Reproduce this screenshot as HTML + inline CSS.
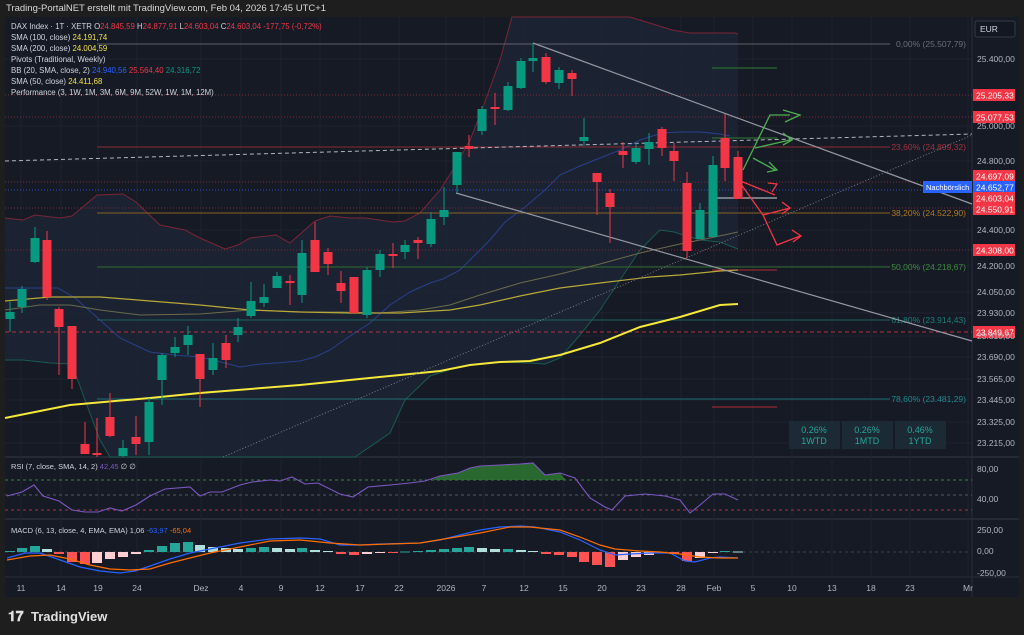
<!DOCTYPE html>
<html><head><meta charset="utf-8"><style>
html,body{margin:0;padding:0;background:#1e1e1e;width:1024px;height:635px;overflow:hidden}
svg{display:block;font-family:"Liberation Sans",sans-serif}
</style></head><body>
<svg id="s" width="1024" height="635" viewBox="0 0 1024 635" xmlns="http://www.w3.org/2000/svg">
<rect x="0" y="0" width="1024" height="635" fill="#1e1e1e"/>
<text x="6" y="11" fill="#d8d8d8" font-size="9.5">Trading-PortalNET erstellt mit TradingView.com, Feb 04, 2026 17:45 UTC+1</text>
<rect x="5" y="17" width="1014" height="580" fill="#161a25"/>
<line x1="972" y1="17" x2="972" y2="597" stroke="#2a2e39"/>
<line x1="5" y1="457" x2="1019" y2="457" stroke="#2a2e39" stroke-width="1.5"/>
<line x1="5" y1="519" x2="1019" y2="519" stroke="#2a2e39" stroke-width="1.5"/>
<line x1="5" y1="577" x2="1019" y2="577" stroke="#2a2e39"/>
<g id="grid" stroke="#1f2330" stroke-width="1"></g>
<g id="bb"></g>
<g id="lines"></g>
<g id="candles"></g>
<g id="ann"></g>
<g id="axis" font-size="8.5" fill="#b2b5be"></g>
<g font-size="7.8">
<text x="11" y="29" fill="#d1d4dc">DAX Index · 1T · XETR <tspan>O</tspan><tspan fill="#f23645">24.845,59</tspan> H<tspan fill="#f23645">24.877,91</tspan> L<tspan fill="#f23645">24.603,04</tspan> C<tspan fill="#f23645">24.603,04  -177,75 (-0,72%)</tspan></text>
<text x="11" y="40" fill="#d1d4dc">SMA (100, close) <tspan fill="#f0e040">24.191,74</tspan></text>
<text x="11" y="51" fill="#d1d4dc">SMA (200, close) <tspan fill="#f0e040">24.004,59</tspan></text>
<text x="11" y="62" fill="#d1d4dc">Pivots (Traditional, Weekly)</text>
<text x="11" y="73" fill="#d1d4dc">BB (20, SMA, close, 2) <tspan fill="#2962ff">24.940,56</tspan> <tspan fill="#f23645">25.564,40</tspan> <tspan fill="#089981">24.316,72</tspan></text>
<text x="11" y="84" fill="#d1d4dc">SMA (50, close) <tspan fill="#f0e040">24.411,68</tspan></text>
<text x="11" y="95" fill="#d1d4dc">Performance (3, 1W, 1M, 3M, 6M, 9M, 52W, 1W, 1M, 12M)</text>
<text x="11" y="469" fill="#d1d4dc" font-size="7.5">RSI (7, close, SMA, 14, 2) <tspan fill="#7e57c2">42,45</tspan> ∅ ∅</text>
<text x="11" y="533" fill="#d1d4dc" font-size="7.5">MACD (6, 13, close, 4, EMA, EMA) 1,06 <tspan fill="#2962ff">-63,97</tspan> <tspan fill="#ff6d00">-65,04</tspan></text>
</g>
<rect x="975" y="21" width="40" height="16" rx="2" fill="#131722" stroke="#363a45"/>
<text x="980" y="32" fill="#d1d4dc" font-size="8.5">EUR</text>
<g font-size="9.5" fill="#d1d4dc" font-weight="bold">
<text x="8" y="621" font-size="14" font-weight="bold" fill="#e0e0e0">𝟏𝟕</text>
<text x="31" y="621" font-size="13" fill="#e0e0e0">TradingView</text>
</g>
</svg>
<script>
const NS="http://www.w3.org/2000/svg";
function el(p,t,a,txt){const e=document.createElementNS(NS,t);for(const k in a)e.setAttribute(k,a[k]);if(txt!==undefined)e.textContent=txt;document.getElementById(p).appendChild(e);return e;}
function pl(p,pts,c,w,extra){const a={points:pts.map(q=>q.join(',')).join(' '),fill:'none',stroke:c,'stroke-width':w||1};Object.assign(a,extra||{});return el(p,'polyline',a);}
const xt=[[21,'11'],[61,'14'],[98,'19'],[137,'24'],[201,'Dez'],[241,'4'],[281,'9'],[320,'12'],[360,'17'],[399,'22'],[446,'2026'],[484,'7'],[524,'12'],[563,'15'],[602,'20'],[641,'23'],[681,'28'],[714,'Feb'],[753,'5'],[792,'10'],[832,'13'],[871,'18'],[910,'23'],[968,'Mr']];
xt.forEach(([x,l])=>{el('grid','line',{x1:x,y1:17,x2:x,y2:577});el('axis','text',{x:x,y:591,'text-anchor':'middle'},l);});
const yl=[[62,'25.400,00'],[129,'25.000,00'],[164,'24.800,00'],[233,'24.400,00'],[269,'24.200,00'],[295,'24.050,00'],[316,'23.930,00'],[339,'23.810,00'],[360,'23.690,00'],[382,'23.565,00'],[403,'23.445,00'],[425,'23.325,00'],[446,'23.215,00']];
yl.forEach(([y,l])=>{el('grid','line',{x1:5,y1:y-3,x2:972,y2:y-3});el('axis','text',{x:977,y:y},l);});
[[472,'80,00'],[502,'40,00'],[533,'250,00'],[554,'0,00'],[576,'-250,00']].forEach(([y,l])=>el('axis','text',{x:977,y:y},l));
const up=[[5,218],[23,220],[35,215],[60,218],[72,216],[97,195],[123,194],[136,202],[160,225],[185,230],[200,238],[225,249],[238,245],[250,238],[276,235],[290,243],[315,221],[330,216],[350,218],[365,218],[393,222],[405,221],[420,213],[440,190],[456,165],[470,140],[482,110],[500,60],[512,17],[630,17],[640,20],[672,30],[690,33],[735,33],[738,34]];
const lo=[[5,360],[23,360],[50,363],[72,364],[85,400],[100,440],[110,457],[355,457],[390,433],[405,400],[430,376],[455,368],[470,365],[500,362],[530,363],[545,364],[560,358],[580,335],[600,310],[620,280],[640,250],[660,230],[674,232],[700,240],[720,242],[738,249]];
el('bb','polygon',{points:up.concat(lo.slice().reverse()).map(q=>q.join(',')).join(' '),fill:'#1d2637','fill-opacity':0.8});
pl('bb',up.filter(p=>!(p[0]>512&&p[0]<630)),'#7a2535',1);
pl('bb',lo,'#1a5a4e',1);
pl('bb',[[5,288],[30,288],[58,288],[75,298],[100,320],[120,338],[150,352],[175,355],[200,357],[225,363],[240,367],[260,364],[276,363],[300,361],[315,357],[330,350],[350,336],[370,323],[390,305],[410,292],[430,283],[443,279],[460,270],[475,255],[490,240],[505,222],[525,207],[545,190],[560,175],[580,166],[600,158],[620,150],[640,140],[662,133],[680,132],[700,132],[720,134],[730,136]],'#2a3f8a',1);
const L=(y,c,x1,x2,d,w)=>el('lines','line',{x1:x1,y1:y,x2:x2,y2:y,stroke:c,'stroke-width':w||1,'stroke-dasharray':d||''});
L(95,'#7a2a35',5,972,'1,2');L(117,'#7a2a35',5,972,'1,2');L(182,'#7a2a35',5,972,'1,2');L(208,'#7a2a35',5,972,'1,2');L(250,'#7a2a35',5,972,'1,2');
L(190,'#2950c0',5,972,'1,2');L(332,'#b03040',5,972,'4,3');
L(44,'#5d606b',97,890);L(147,'#8a2a33',97,890);L(213,'#8a6020',97,890);L(267,'#2f6b2f',97,890);L(320,'#1e6060',97,890);L(399,'#1e6a70',97,890);
L(68,'#2e7d32',712,777);L(138,'#2e7d32',712,777);L(270,'#b22a35',712,777);L(407,'#b22a35',712,777);L(198,'#9598a1',717,777,'',1.5);
const fl=[[47,'#6b6e78','0,00% (25.507,79)'],[150,'#a0333c','23,60% (24.899,32)'],[216,'#b07a20','38,20% (24.522,90)'],[270,'#3f8a3f','50,00% (24.218,67)'],[323,'#1f7f7a','61,80% (23.914,43)'],[402,'#1f8a90','78,60% (23.481,29)']];
fl.forEach(([y,c,t])=>el('lines','text',{x:966,y:y,fill:c,'font-size':8.5,'text-anchor':'end'},t));
pl('lines',[[5,310],[40,305],[70,305],[100,310],[140,315],[200,314],[250,310],[300,312],[340,312],[380,313],[420,310],[450,305],[480,295],[520,283],[560,274],[600,264],[640,253],[680,244],[710,238],[738,232]],'#6b6a4a',1);
pl('lines',[[5,301],[50,297],[100,297],[150,301],[200,305],[250,310],[300,312],[350,313],[400,313],[450,310],[480,305],[520,296],[560,288],[600,283],[650,277],[680,275],[700,273],[720,271],[738,270]],'#b8a838',1.2);
pl('lines',[[5,418],[70,405],[150,398],[200,393],[300,385],[400,375],[440,371],[470,365],[500,362],[530,361],[560,355],[600,343],[640,327],[680,317],[720,305],[738,304]],'#f5e83a',2);
el('lines','line',{x1:5,y1:161,x2:972,y2:134,stroke:'#b2b5be','stroke-dasharray':'4,3'});
el('lines','line',{x1:533,y1:43,x2:972,y2:204,stroke:'#9598a1','stroke-width':1.2});
el('lines','line',{x1:456,y1:193,x2:972,y2:341,stroke:'#9598a1','stroke-width':1.2});
el('lines','line',{x1:223,y1:457,x2:972,y2:135,stroke:'#7a7d86','stroke-dasharray':'1,2'});
const C=[[10,312,319,302,332,1],[22,289,307,286,313,1],[35,238,262,227,263,1],[47,240,297,231,300,0],[59,309,327,307,375,0],[72,326,379,326,389,0],[85,444,454,422,454,0],[97,453,455,418,457,0],[110,417,436,393,437,0],[123,448,456,440,457,1],[136,437,444,416,455,0],[149,402,442,398,455,1],[162,355,380,353,405,1],[175,347,353,337,357,1],[188,335,345,326,355,1],[200,354,379,354,407,0],[213,358,370,343,375,1],[226,343,360,335,368,0],[238,327,335,318,342,1],[251,301,316,282,318,1],[264,297,303,284,307,1],[277,276,288,272,288,1],[290,281,283,275,305,0],[302,253,295,240,303,1],[315,240,272,222,272,0],[328,252,264,248,275,0],[341,283,291,271,303,0],[354,277,313,277,313,0],[367,270,315,267,318,1],[380,254,270,250,277,1],[393,254,256,243,268,0],[405,245,252,240,259,1],[418,240,243,237,259,0],[431,219,244,212,247,1],[444,210,217,187,225,1],[457,152,185,152,193,1],[469,146,149,135,157,0],[482,109,131,106,135,1],[495,107,109,93,125,0],[508,86,110,82,111,1],[521,61,88,58,89,1],[533,58,61,43,72,1],[546,57,82,53,84,0],[559,70,83,67,89,1],[572,73,79,70,96,0],[584,137,141,118,146,1],[597,173,182,173,215,0],[610,193,207,189,243,0],[623,151,155,142,168,0],[636,148,162,143,164,1],[649,142,149,133,165,1],[662,129,148,127,156,0],[674,151,161,143,181,0],[687,183,251,172,258,0],[700,210,239,203,239,1],[713,165,237,156,237,1],[725,138,168,114,181,0],[738,157,199,151,199,0]];
C.forEach(([x,bt,bb,wt,wb,g])=>{const c=g?'#089981':'#f23645';el('candles','line',{x1:x,y1:wt,x2:x,y2:wb,stroke:c});el('candles','rect',{x:x-4.5,y:bt,width:9,height:Math.max(1.5,bb-bt),fill:c});});
const A=(pts,c)=>pl('ann',pts,c,1.3);
A([[743,170],[770,115],[790,115]],'#4caf50');A([[783,110],[800,115],[785,122]],'#4caf50');
A([[755,148],[790,140]],'#4caf50');A([[783,133],[792,140],[783,145]],'#4caf50');
A([[753,158],[775,170]],'#4caf50');A([[769,162],[777,170],[767,172]],'#4caf50');
A([[738,180],[775,195]],'#f23645');A([[768,183],[777,184],[772,192]],'#f23645');
A([[738,180],[763,215],[790,208]],'#f23645');A([[782,202],[790,208],[782,214]],'#f23645');
A([[763,215],[777,245],[800,236]],'#f23645');A([[792,230],[801,236],[793,242]],'#f23645');
[[789,'0.26%','1WTD'],[842,'0.26%','1MTD'],[895,'0.46%','1YTD']].forEach(([x,a,b])=>{el('ann','rect',{x:x,y:421,width:51,height:28,fill:'#1c2a35'});el('ann','text',{x:x+25,y:433,fill:'#26a69a','font-size':9,'text-anchor':'middle'},a);el('ann','text',{x:x+25,y:444,fill:'#26a69a','font-size':9,'text-anchor':'middle'},b);});
const P=[[95,'25.205,33','#f23645'],[117,'25.077,53','#f23645'],[176,'24.697,09','#f23645'],[187,'24.652,77','#2962ff'],[198,'24.603,04','#f23645'],[209,'24.550,91','#f23645'],[250,'24.308,00','#f23645'],[332,'23.849,67','#f23645']];
P.forEach(([y,t,c])=>{el('ann','rect',{x:973,y:y-6,width:42,height:12,fill:c});el('ann','text',{x:976,y:y+3.5,fill:'#fff','font-size':8.5},t);});
el('ann','rect',{x:923,y:181,width:49,height:12,fill:'#2962ff'});el('ann','text',{x:926,y:190,fill:'#fff','font-size':7.5},'Nachbörslich');
L(480,'#2e8b3e',5,972,'3,3');L(495,'#555a66',5,972,'3,3');L(510,'#b03040',5,972,'3,3');
const rsi=[[7,496],[22,492],[34,485],[43,496],[59,501],[72,510],[85,512],[98,512],[110,508],[122,511],[136,505],[150,496],[165,489],[190,487],[200,496],[210,492],[222,492],[240,485],[252,482],[270,480],[280,481],[292,477],[305,484],[318,483],[340,494],[353,497],[368,487],[390,485],[410,483],[425,481],[440,476],[458,473],[470,468],[480,466],[500,465],[520,464],[533,463],[545,475],[560,473],[575,478],[590,498],[605,507],[612,510],[625,496],[645,494],[665,496],[680,500],[690,513],[700,505],[713,494],[725,494],[738,500]];
el('lines','polygon',{points:'432,480 440,476 458,473 470,468 480,466 500,465 520,464 533,463 545,475 560,473 566,480',fill:'#2e7d32','fill-opacity':0.8});
pl('lines',rsi,'#7e57c2',1.1);
L(552,'#3a3e4a',5,972,'3,3');
const H=[[10,1],[22,4],[35,6],[47,3],[59,-2],[72,-10],[85,-12],[97,-11],[110,-7],[123,-5],[136,-2],[149,2],[162,6],[175,9],[188,10],[200,7],[213,5],[226,4],[238,3],[251,4],[264,5],[277,4],[290,3],[302,4],[315,2],[328,1],[341,-2],[354,-3],[367,-2],[380,-1],[393,-1],[405,0.5],[418,1],[431,2],[444,3],[457,4],[469,5],[482,4],[495,3],[508,3],[521,2],[533,1],[546,-2],[559,-3],[572,-5],[584,-10],[597,-13],[610,-15],[623,-8],[636,-5],[649,-3],[662,-1],[674,-2],[687,-9],[700,-6],[713,-1],[725,1],[738,0.5]];
H.forEach(([x,h],i)=>{const prev=i?H[i-1][1]:0;let c;if(h>=0)c=h>=prev?'#26a69a':'#b2dfdb';else c=h<=prev?'#ff5252':'#ffcdd2';el('lines','rect',{x:x-5,y:h>=0?552-h:552,width:10,height:Math.max(1,Math.abs(h)),fill:c});});
pl('lines',[[7,558],[25,553],[40,553],[60,560],[80,567],[100,571],[120,573],[135,571],[150,566],[170,559],[190,553],[210,549],[240,543],[270,539],[300,538],[320,539],[340,545],[360,545],[380,544],[420,543],[440,540],[460,535],[480,530],[500,527],[520,526],[535,527],[560,532],[580,540],[600,550],[615,555],[630,554],[650,553],[670,553],[685,561],[695,562],[710,558],[720,557],[738,558]],'#2962ff',1.2);
pl('lines',[[7,560],[30,556],[50,555],[70,559],[90,565],[110,569],[130,570],[150,569],[170,563],[190,558],[210,553],[240,547],[270,541],[300,540],[330,543],[360,545],[390,544],[420,543],[450,538],[480,533],[510,527],[530,527],[560,530],[580,537],[600,545],[615,549],[640,551],[660,552],[680,554],[700,557],[720,558],[738,558]],'#ff6d00',1.2);
</script>
</body></html>
